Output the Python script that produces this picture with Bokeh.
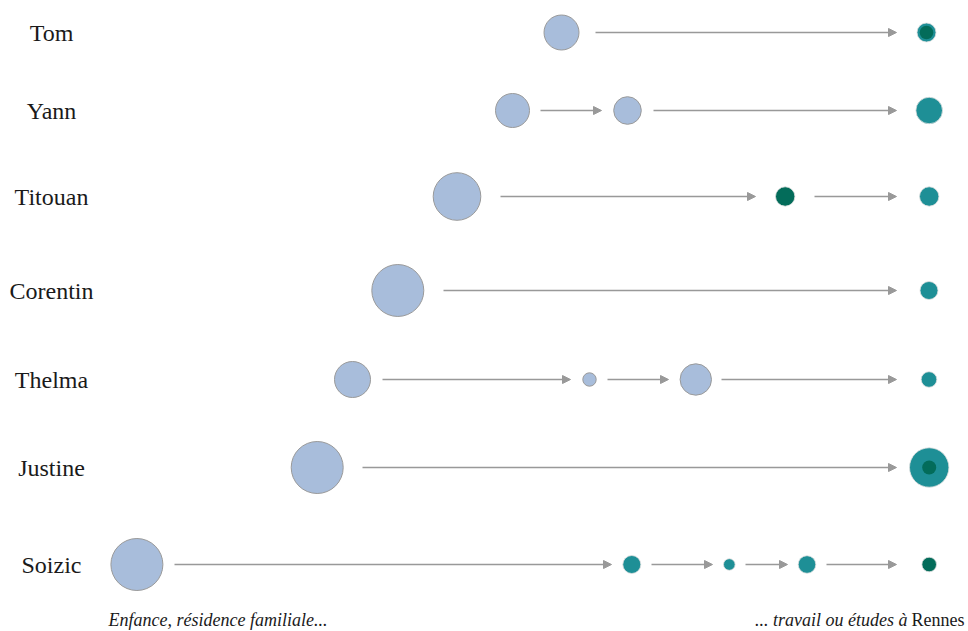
from bokeh.plotting import figure
from bokeh.models import ColumnDataSource, Range1d, Arrow, NormalHead, Label
from bokeh.core.properties import value
from bokeh.embed import file_html
from bokeh.resources import INLINE

# ---------------- data ----------------
names = ["Tom", "Yann", "Titouan", "Corentin", "Thelma", "Justine", "Soizic"]
row_y = [32, 110, 196, 290, 379, 467, 564]

# residential steps: person, position along the trajectory, radius, kind
step_person = ["Tom", "Tom",
               "Yann", "Yann", "Yann",
               "Titouan", "Titouan", "Titouan",
               "Corentin", "Corentin",
               "Thelma", "Thelma", "Thelma", "Thelma",
               "Justine", "Justine",
               "Soizic", "Soizic", "Soizic", "Soizic", "Soizic"]
step_x = [561, 926,
          512, 627, 928.7,
          456.5, 784.7, 928.7,
          397.3, 928.5,
          352, 589, 695.3, 928.5,
          316.7, 928.7,
          136.4, 631.3, 728.8, 806.5, 928.7]
step_r = [17.5, 9.5,
          17, 13.8, 13.3,
          23.8, 9.7, 9.7,
          26, 9,
          18, 6.7, 15.7, 7.8,
          26, 19.7,
          26, 9, 5.8, 8.8, 7.3]
step_kind = ["famille", "rennes",
             "famille", "famille", "rennes",
             "famille", "autre", "rennes",
             "famille", "rennes",
             "famille", "famille", "famille", "rennes",
             "famille", "rennes",
             "famille", "rennes", "rennes", "rennes", "autre"]

# inner marks (second status inside final step)
inner_person = ["Tom", "Justine"]
inner_x = [926, 928.7]
inner_r = [6.8, 7]

# transitions (arrows)
arrow_person = ["Tom",
                "Yann", "Yann",
                "Titouan", "Titouan",
                "Corentin",
                "Thelma", "Thelma", "Thelma",
                "Justine",
                "Soizic", "Soizic", "Soizic", "Soizic"]
arrow_x0 = [595,
            540, 653,
            500, 814,
            443,
            382, 607, 721,
            362,
            174, 651, 745, 826]
arrow_x1 = [896,
            601, 896,
            755, 896,
            896,
            570, 668, 896,
            896,
            611, 712, 787, 896]

caption_left = "Enfance, résidence familiale..."
caption_right_italic = "... travail ou études à"
caption_right_plain = "Rennes"

colors = {"famille": "#A8BDDB", "rennes": "#1E8F96", "autre": "#036C5A"}
outline = {"famille": "#9A9A9A", "rennes": "#E0E0E0", "autre": "#E0E0E0"}

# ---------------- figure ----------------
ymap = dict(zip(names, row_y))

p = figure(width=968, height=631, output_backend="svg", toolbar_location=None,
           x_range=Range1d(0, 968), y_range=Range1d(631, 0),
           x_axis_location=None, y_axis_location=None, min_border=0)
p.grid.visible = False
p.outline_line_color = None
p.background_fill_color = "white"
p.border_fill_color = "white"

# arrows
asrc = ColumnDataSource(dict(x0=arrow_x0, x1=arrow_x1,
                             y=[ymap[n] for n in arrow_person]))
p.add_layout(Arrow(end=NormalHead(size=8, fill_color="#999999", line_color="#999999", line_width=1),
                   x_start="x0", y_start="y", x_end="x1", y_end="y", source=asrc,
                   line_color="#999999", line_width=1.6))

# steps
ssrc = ColumnDataSource(dict(x=step_x, y=[ymap[n] for n in step_person],
                             size=[2 * r for r in step_r],
                             fill=[colors[k] for k in step_kind],
                             line=[outline[k] for k in step_kind],
                             lw=[1.0 if k == "famille" else 0.8 for k in step_kind]))
p.scatter("x", "y", size="size", source=ssrc, fill_color="fill", line_color="line",
          line_width="lw")

isrc = ColumnDataSource(dict(x=inner_x, y=[ymap[n] for n in inner_person],
                             size=[2 * r for r in inner_r]))
p.scatter("x", "y", size="size", source=isrc, fill_color=colors["autre"], line_color=None)

# names
nsrc = ColumnDataSource(dict(x=[51] * len(names), y=row_y, t=names))
p.text("x", "y", text="t", source=nsrc, text_align="center", text_baseline="middle",
       text_font=value("Liberation Serif"), text_font_size="24px", text_color="#1a1a1a")

# captions
p.add_layout(Label(x=108, y=619, text=caption_left, text_font="Liberation Serif",
                   text_font_style="italic", text_font_size="18px", text_color="#1a1a1a",
                   text_baseline="alphabetic", text_align="left"))
p.add_layout(Label(x=964, y=619, text=caption_right_plain, text_font="Liberation Serif",
                   text_font_size="18px", text_color="#1a1a1a",
                   text_baseline="alphabetic", text_align="right"))
p.add_layout(Label(x=907, y=619, text=caption_right_italic, text_font="Liberation Serif",
                   text_font_style="italic", text_font_size="18px", text_color="#1a1a1a",
                   text_baseline="alphabetic", text_align="right"))

open("out.html", "w").write(file_html(p, INLINE))
